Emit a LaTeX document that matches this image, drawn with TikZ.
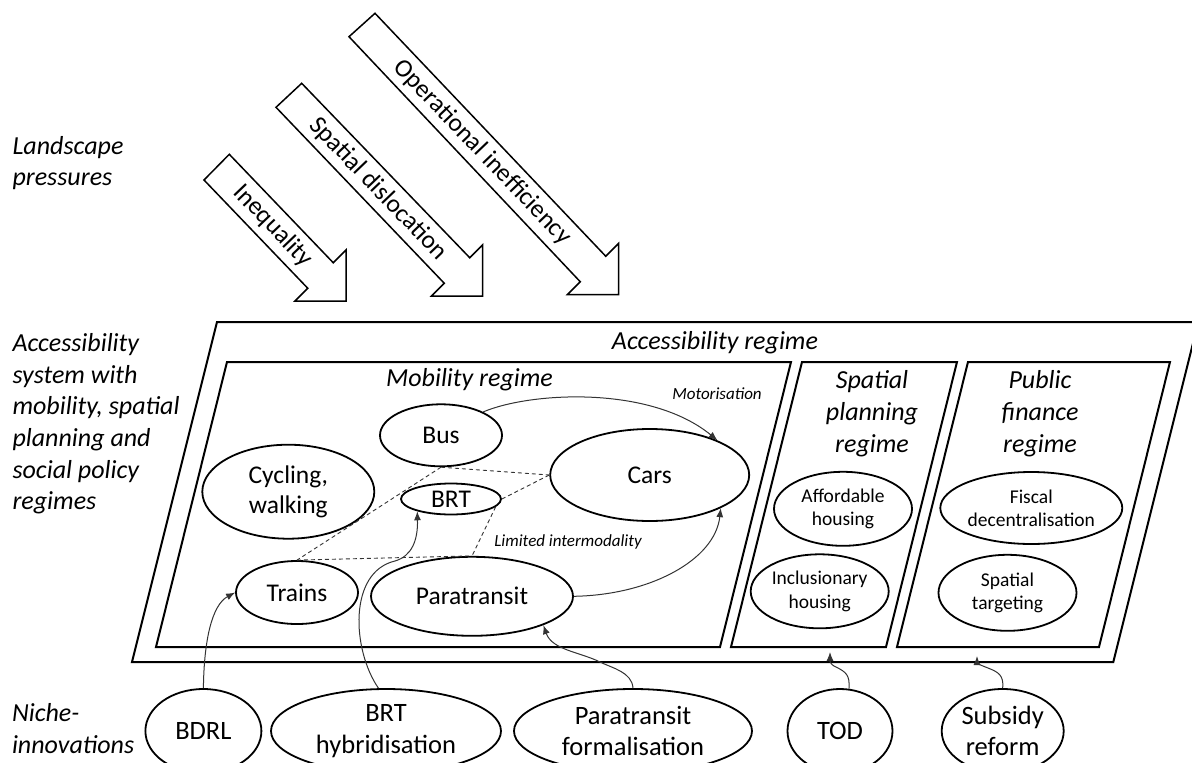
\documentclass[tikz,border=0pt]{standalone}
\usepackage{fontspec}
\setmainfont{Carlito}
\usetikzlibrary{shapes.geometric,arrows.meta}
\begin{document}
\begin{tikzpicture}[x=1pt,y=-1pt,
  box/.style={draw,line width=2pt,line join=miter},
  oval/.style={draw,ellipse,line width=1.8pt,inner sep=0pt,align=center},
  big/.style={font=\fontsize{25.5}{30}\selectfont},
  small/.style={font=\fontsize{19.5}{23.3}\selectfont},
  niche/.style={font=\fontsize{26.5}{31.5}\selectfont},
  title/.style={font=\fontsize{26}{31.6}\selectfont\itshape,align=center,anchor=base},
  lab/.style={font=\fontsize{26}{31.6}\selectfont\itshape,align=left,anchor=base west},
  conn/.style={draw=black!80,line width=1pt},
  arr/.style={conn,-{Latex[length=9pt,width=7pt]}},
  dsh/.style={draw=black!80,line width=0.9pt,dash pattern=on 4pt off 3pt},
  pressure/.style={draw,line width=1.5pt,line join=miter},
  ptext/.style={font=\fontsize{25.5}{28}\selectfont,rotate=-46.3},
  note/.style={font=\fontsize{17}{20}\selectfont\itshape}
]
\useasboundingbox (0,0) rectangle (1192,763);
\clip (0,0) rectangle (1192,763);

% landscape pressure arrows
\draw[pressure] (204,180) -- (229.3,154.3) -- (333.25,262.75) -- (346,250) -- (346,301) -- (295,301) -- (307.75,288.25) -- cycle;
\draw[pressure] (276,107.3) -- (301.7,83.3) -- (469.75,257.75) -- (482.5,245) -- (482.5,296) -- (431.5,296) -- (444.25,283.25) -- cycle;
\draw[pressure] (349,36.7) -- (375,13.3) -- (605.75,256.25) -- (618.5,243.5) -- (618.5,294.5) -- (567.5,294.5) -- (580.25,281.75) -- cycle;
\node[ptext] (ineq) at (273,226) {Inequality};
\node[ptext] (disl) at (378,189) {Spatial dislocation};
\node[ptext] (ineff) at (482.5,152.5) {Operational inefficiency};

% left labels (anchor at baseline of last line)
\node[lab] (lland) at (9,185.8) {Landscape\\pressures};
\node[lab] (lacc) at (9,509.7) {Accessibility\\system with\\mobility, spatial\\planning and\\social policy\\regimes};
\node[lab] (lniche) at (8.5,753.3) {Niche-\\innovations};

% regime boxes
\draw[box] (217,322) -- (1198.3,322) -- (1113.3,662) -- (132,662) -- cycle;
\draw[box] (227,362) -- (791,362) -- (720,647) -- (156,647) -- cycle;
\draw[box] (802,362) -- (957,362) -- (886,647) -- (731,647) -- cycle;
\draw[box] (968,362) -- (1170,362) -- (1099,647) -- (897,647) -- cycle;

\node[title] (accT) at (715,349) {Accessibility regime};
\node[title] (mobT) at (469.5,386) {Mobility regime};
\node[title] (spT) at (872,452) {Spatial\\planning\\regime};
\node[title] (pfT) at (1040,452) {Public\\finance\\regime};

% mobility nodes
\node[oval,big,minimum width=122pt,minimum height=62pt] (bus) at (441,435.3) {Bus};
\node[oval,big,minimum width=172pt,minimum height=94pt] (cyc) at (288.3,491.7) {Cycling,\\walking};
\node[oval,big,minimum width=100pt,minimum height=31pt] (brt) at (451,499) {BRT};
\node[oval,big,minimum width=122pt,minimum height=63pt] (trains) at (297,592.5) {Trains};
\node[oval,big,minimum width=202pt,minimum height=79pt] (para) at (472,596.3) {Paratransit};
\node[oval,big,minimum width=199pt,minimum height=92pt] (cars) at (649.7,475) {Cars};

% spatial / finance nodes
\node[oval,small,minimum width=138pt,minimum height=74pt] (afford) at (843,508.8) {Affordable\\housing};
\node[oval,small,minimum width=138pt,minimum height=74pt] (incl) at (819.7,591.3) {Inclusionary\\housing};
\node[oval,small,minimum width=182pt,minimum height=72pt] (fiscal) at (1031.3,508) {Fiscal\\decentralisation};
\node[oval,small,minimum width=138pt,minimum height=76pt] (target) at (1007.5,592.8) {Spatial\\targeting};

% niche nodes
\node[oval,niche,minimum width=116pt,minimum height=84pt] (bdrl) at (203.4,731) {BDRL};
\node[oval,niche,minimum width=230pt,minimum height=84pt] (brth) at (386,731) {BRT\\hybridisation};
\node[oval,niche,minimum width=238pt,minimum height=84pt] (paraf) at (633,731) {Paratransit\\formalisation};
\node[oval,niche,minimum width=105pt,minimum height=84pt] (tod) at (840,731) {TOD};
\node[oval,niche,minimum width=122pt,minimum height=84pt] (subs) at (1002.7,731) {Subsidy\\reform};

\coordinate (spb) at (830,652);
\coordinate (pfb) at (977,656);

% dashed intermodality links
\draw[dsh] (bus.south) -- (cars.west);
\draw[dsh] (bus.south) -- (trains.north);
\draw[dsh] (trains.north) -- (para.north);
\draw[dsh] (brt.east) -- (cars.west);
\draw[dsh] (brt.-10) -- (para.north);

% arrows
\draw[arr] (bus.29) .. controls (530,392) and (650,385) .. (cars.27);
\draw[arr] (para.east) .. controls (650,595) and (715,560) .. (cars.-25);
\draw[arr] (bdrl.north) .. controls (204,640) and (212,605) .. (trains.west);
\draw[arr] (brth.100) .. controls (352,650) and (348,572) .. (395,561) .. controls (412,556) and (418,540) .. (brt.200);
\draw[arr] (paraf.north) .. controls (632,672) and (612,668) .. (600,662) .. controls (580,652) and (552,650) .. (para.-22);
\draw[arr] (tod.78) .. controls (850,675) and (846,672) .. (836,667) .. controls (829,664) and (830,660) .. (spb);
\draw[arr] (subs.north) .. controls (1004,675) and (998,672) .. (988,668) .. controls (980,665) and (977,663) .. (pfb);

\node[note] (motor) at (717,394) {Motorisation};
\node[note] (limit) at (568,542) {Limited intermodality};
\end{tikzpicture}
\end{document}
